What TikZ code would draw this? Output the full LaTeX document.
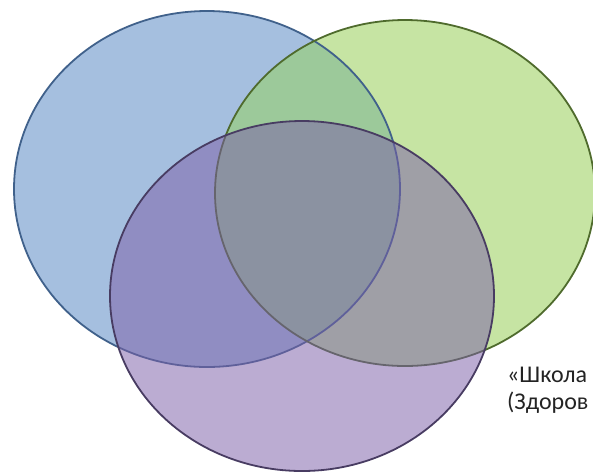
\documentclass[tikz,border=0pt]{standalone}
\usepackage{fontspec}
\setmainfont{Carlito}
\definecolor{bluefill}{RGB}{165,191,223}
\definecolor{blueline}{RGB}{64,97,139}
\definecolor{greenfill}{RGB}{198,228,163}
\definecolor{greenline}{RGB}{79,107,45}
\definecolor{bothfill}{RGB}{156,201,154}
\definecolor{purplefill}{RGB}{125,96,169}
\definecolor{purpleline}{RGB}{72,60,98}
\definecolor{labeltext}{RGB}{35,35,35}
\begin{document}
\begin{tikzpicture}[
  x=1pt, y=-1pt,
  ring/.style={line width=1.8pt},
  label/.style={anchor=base west, inner sep=0pt, text=labeltext,
    font=\fontsize{24}{28}\selectfont}
]
\useasboundingbox (0,0) rectangle (593,475);

% the three sets
\def\blueset{(207,189) ellipse [x radius=193, y radius=178]}
\def\greenset{(405,193) ellipse [x radius=190, y radius=173]}
\def\purpleset{(302,296) ellipse [x radius=192, y radius=175]}

\fill [bluefill] \blueset;
\fill [greenfill] \greenset;
\begin{scope}
  \clip \blueset;
  \fill [bothfill] \greenset;
\end{scope}
\draw [ring, blueline] \blueset;
\draw [ring, greenline] \greenset;
\fill [purplefill, fill opacity=0.52] \purpleset;
\draw [ring, purpleline] \purpleset;

\node (school) [label] at (507,382) {«Школа};
\node (health) [label] at (507,409) {(Здоров};
\end{tikzpicture}
\end{document}
